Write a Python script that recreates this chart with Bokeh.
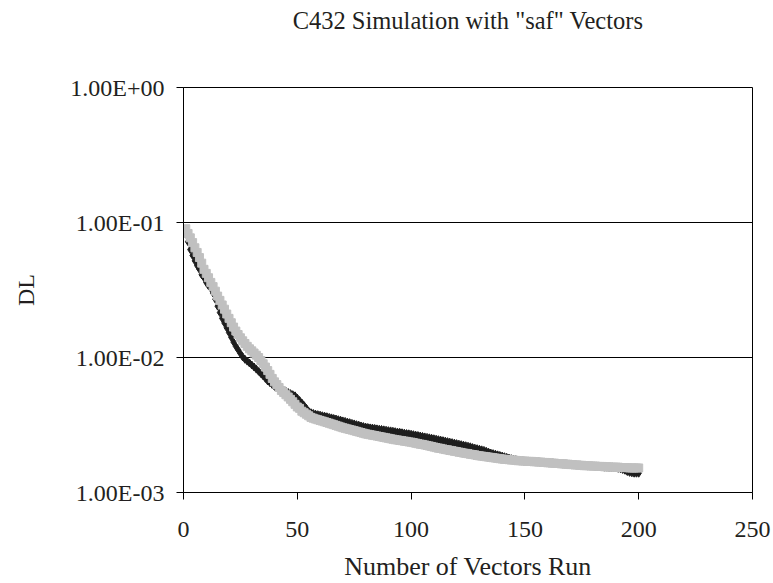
from bokeh.plotting import figure
from bokeh.models import FixedTicker, CustomJSTickFormatter, Range1d, LinearAxis
from bokeh.embed import file_html
from bokeh.resources import INLINE

# Vector counts and the DL value after each vector
vectors = list(range(1, 201))

dl_black = [
    0.082, 0.072, 0.063, 0.057, 0.052, 0.048, 0.045, 0.041, 0.039, 0.036,
    0.034, 0.0325, 0.030, 0.027, 0.024, 0.0215, 0.0195, 0.0180, 0.0166, 0.0153,
    0.0141, 0.0130, 0.0121, 0.0114, 0.0107, 0.0101, 0.0097, 0.0094, 0.0091, 0.0088,
    0.0085, 0.0082, 0.0079, 0.0076, 0.0073, 0.0070, 0.0067, 0.0065, 0.0063, 0.0061,
    0.0060, 0.0059, 0.0058, 0.0057, 0.0056, 0.0055, 0.0054, 0.0053, 0.0052, 0.0050,
    0.0048, 0.0046, 0.0044, 0.0042, 0.0040, 0.0039, 0.00385, 0.00380, 0.00377, 0.00374,
    0.00370, 0.00367, 0.00364, 0.00360, 0.00357, 0.00353, 0.00350, 0.00346, 0.00343, 0.00339,
    0.00336, 0.00332, 0.00329, 0.00325, 0.00322, 0.00318, 0.00315, 0.00311, 0.00308, 0.00305,
    0.00303, 0.00301, 0.00300, 0.00298, 0.00296, 0.00294, 0.00293, 0.00291, 0.00289, 0.00287,
    0.00286, 0.00284, 0.00282, 0.00280, 0.00279, 0.00277, 0.00275, 0.00273, 0.00272, 0.00270,
    0.00268, 0.00266, 0.00264, 0.00262, 0.00260, 0.00258, 0.00256, 0.00254, 0.00252, 0.00250,
    0.00248, 0.00246, 0.00244, 0.00242, 0.00240, 0.00238, 0.00236, 0.00234, 0.00232, 0.00230,
    0.00228, 0.00226, 0.00224, 0.00222, 0.00220, 0.00218, 0.00215, 0.00213, 0.00211, 0.00209,
    0.00207, 0.00205, 0.00202, 0.00199, 0.00196, 0.00194, 0.00192, 0.00190, 0.00188, 0.00186,
    0.00184, 0.00182, 0.00180, 0.00178, 0.00176, 0.00175, 0.00174, 0.00173, 0.00172, 0.00171,
    0.00171, 0.00170, 0.00170, 0.00170, 0.00169, 0.00169, 0.00168, 0.00168, 0.00167, 0.00167,
    0.00166, 0.00166, 0.00165, 0.00165, 0.00164, 0.00164, 0.00163, 0.00163, 0.00162, 0.00162,
    0.00161, 0.00161, 0.00160, 0.00160, 0.00159, 0.00159, 0.00158, 0.00158, 0.00157, 0.00157,
    0.00156, 0.00156, 0.00155, 0.00155, 0.00154, 0.00154, 0.00153, 0.00153, 0.00152, 0.00152,
    0.00151, 0.00150, 0.00148, 0.00146, 0.00143, 0.00141, 0.00140, 0.00139, 0.00139, 0.00139,
]

dl_gray = [
    0.090, 0.083, 0.077, 0.071, 0.065, 0.060, 0.055, 0.050, 0.045, 0.042,
    0.039, 0.036, 0.0335, 0.031, 0.0285, 0.0265, 0.0245, 0.0228, 0.0210, 0.0195,
    0.0181, 0.0168, 0.0157, 0.0148, 0.0140, 0.0133, 0.0127, 0.0121, 0.0116, 0.0112,
    0.0108, 0.0104, 0.0100, 0.0095, 0.0090, 0.0085, 0.0080, 0.0075, 0.0070, 0.0066,
    0.0063, 0.0060, 0.0057, 0.0055, 0.0053, 0.0051, 0.0049, 0.0047, 0.0045, 0.0043,
    0.0042, 0.0040, 0.0039, 0.0038, 0.0037, 0.0036, 0.00355, 0.00350, 0.00346, 0.00342,
    0.00338, 0.00334, 0.00330, 0.00326, 0.00322, 0.00318, 0.00314, 0.00310, 0.00306, 0.00302,
    0.00299, 0.00296, 0.00293, 0.00290, 0.00287, 0.00284, 0.00281, 0.00278, 0.00275, 0.00272,
    0.00270, 0.00268, 0.00266, 0.00264, 0.00262, 0.00260, 0.00258, 0.00256, 0.00254, 0.00252,
    0.00250, 0.00248, 0.00246, 0.00245, 0.00243, 0.00242, 0.00240, 0.00239, 0.00237, 0.00236,
    0.00234, 0.00232, 0.00230, 0.00228, 0.00227, 0.00225, 0.00223, 0.00221, 0.00219, 0.00217,
    0.00215, 0.00213, 0.00212, 0.00210, 0.00208, 0.00207, 0.00205, 0.00204, 0.00202, 0.00201,
    0.00199, 0.00198, 0.00196, 0.00195, 0.00194, 0.00192, 0.00191, 0.00190, 0.00188, 0.00187,
    0.00186, 0.00185, 0.00184, 0.00183, 0.00182, 0.00181, 0.00180, 0.00179, 0.00178, 0.00177,
    0.00176, 0.00176, 0.00175, 0.00174, 0.00174, 0.00173, 0.00172, 0.00172, 0.00171, 0.00171,
    0.00170, 0.00170, 0.00170, 0.00169, 0.00169, 0.00168, 0.00168, 0.00167, 0.00167, 0.00166,
    0.00166, 0.00165, 0.00165, 0.00164, 0.00164, 0.00163, 0.00163, 0.00162, 0.00162, 0.00161,
    0.00161, 0.00160, 0.00160, 0.00159, 0.00159, 0.00158, 0.00158, 0.00158, 0.00157, 0.00157,
    0.00157, 0.00156, 0.00156, 0.00156, 0.00155, 0.00155, 0.00155, 0.00154, 0.00154, 0.00154,
    0.00154, 0.00153, 0.00153, 0.00153, 0.00153, 0.00152, 0.00152, 0.00152, 0.00152, 0.00152,
]

x_ticks = [0, 50, 100, 150, 200, 250]
y_ticks = [0.001, 0.01, 0.1, 1.0]

chart_title = 'C432 Simulation with "saf" Vectors'

FONT = "Liberation Serif"
INK = "#231f20"

p = figure(
    width=773, height=583,
    x_range=Range1d(0, 250), y_range=Range1d(0.001, 1.0),
    y_axis_type="log",
    output_backend="svg", toolbar_location=None,
    min_border_left=183, min_border_right=21,
    min_border_top=87, min_border_bottom=91,
)

p.background_fill_color = "white"
p.border_fill_color = "white"
p.outline_line_color = "black"
p.outline_line_width = 1

p.xgrid.visible = False
p.ygrid.ticker = FixedTicker(ticks=y_ticks)
p.ygrid.grid_line_color = "black"
p.ygrid.grid_line_width = 1

p.xaxis.ticker = FixedTicker(ticks=x_ticks)
p.yaxis.ticker = FixedTicker(ticks=y_ticks)
p.yaxis.formatter = CustomJSTickFormatter(code="""
    const parts = tick.toExponential(2).split('e');
    const e = parseInt(parts[1]);
    const a = Math.abs(e);
    return parts[0] + 'E' + (e < 0 ? '-' : '+') + (a < 10 ? '0' + a : '' + a);
""")

for ax in (p.xaxis[0], p.yaxis[0]):
    ax.axis_line_color = "black"
    ax.major_tick_line_color = "black"
    ax.major_tick_in = 0
    ax.major_tick_out = 7
    ax.minor_tick_line_color = None
    ax.major_label_text_font = FONT
    ax.major_label_text_font_size = "24px"
    ax.major_label_text_color = INK
    ax.axis_label_text_font = FONT
    ax.axis_label_text_font_style = "normal"
    ax.axis_label_text_color = INK

p.xaxis.axis_label = "Number of Vectors Run"
p.xaxis.axis_label_text_font_size = "26px"
p.xaxis.major_label_standoff = 22
p.xaxis.axis_label_standoff = 12

p.yaxis.axis_label = "DL"
p.yaxis.axis_label_text_font_size = "24px"
p.yaxis.major_label_standoff = 12
p.yaxis.axis_label_standoff = 28

# Chart title carried by a bare axis along the top edge
title_axis = LinearAxis(
    ticker=FixedTicker(ticks=[]),
    axis_label=chart_title,
    axis_line_color=None,
    major_tick_line_color=None, major_tick_in=0, major_tick_out=0,
    minor_tick_line_color=None, minor_tick_in=0, minor_tick_out=0,
    major_label_standoff=0,
    axis_label_standoff=54,
    axis_label_text_font=FONT,
    axis_label_text_font_size="24.5px",
    axis_label_text_font_style="normal",
    axis_label_text_color=INK,
)
p.add_layout(title_axis, "above")

p.scatter(vectors, dl_black, marker="diamond", size=8, color="#1e1e1e")
p.scatter(vectors, dl_gray, marker="square", size=8, color="#c0c0c0")

open("out.html", "w").write(file_html(p, INLINE))
